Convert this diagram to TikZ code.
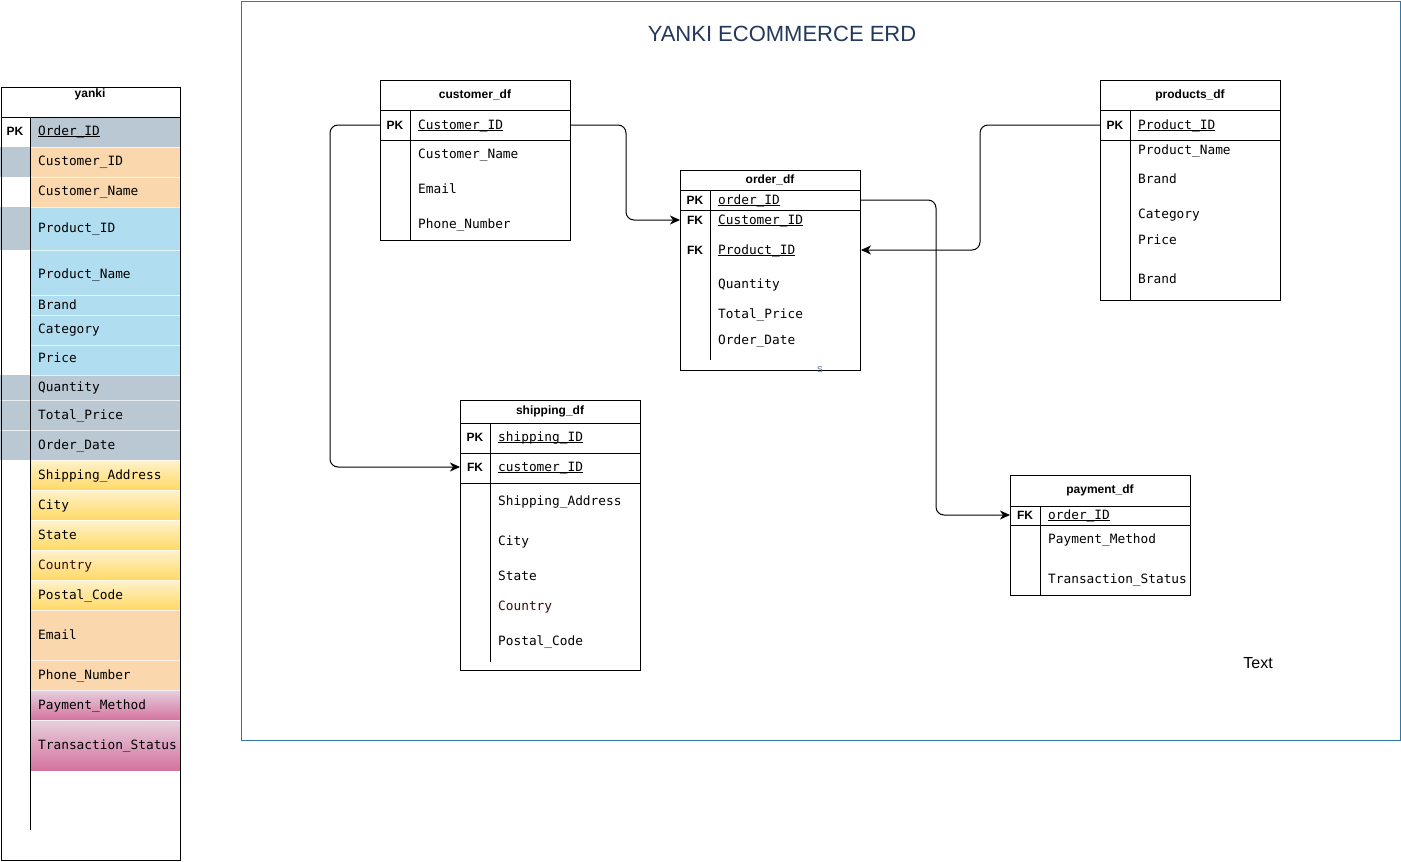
\documentclass[tikz,border=0pt]{standalone}
\usepackage{fontspec}
\setmainfont{Liberation Sans}
\newfontfamily\monof{DejaVu Sans Mono}
\usetikzlibrary{arrows.meta}
\definecolor{framec}{HTML}{2F78AC}
\definecolor{titlec}{HTML}{23395B}
\definecolor{gbl}{HTML}{BAC8D3}
\definecolor{org}{HTML}{FAD7AC}
\definecolor{blu}{HTML}{B1DDF0}
\definecolor{yl1}{HTML}{FFF2CC}
\definecolor{yl2}{HTML}{FFD966}
\definecolor{pk1}{HTML}{E6D0DE}
\definecolor{pk2}{HTML}{D5739D}
\definecolor{ctry}{HTML}{3D0A0A}
\definecolor{sc}{HTML}{4A6A8A}
\newcommand\myul[1]{\setbox0\hbox{#1}\rlap{\rule[-1.6pt]{\wd0}{0.7pt}}\box0}
\tikzset{
  tbl/.style={draw=black, line width=1pt, anchor=north west, inner sep=0pt},
  fld/.style={anchor=west, inner sep=0pt, font=\monof\fontsize{12.8}{14}\selectfont, text height=9pt, text depth=1pt},
  keyl/.style={anchor=center, inner sep=0pt, font=\bfseries\fontsize{12}{14}\selectfont},
  ttl/.style={anchor=center, inner sep=0pt, font=\bfseries\fontsize{12}{14}\selectfont},
  sep/.style={draw=black, line width=1pt},
  rowsep/.style={draw=white, line width=0.6pt, opacity=0.7},
  conn/.style={draw=black, line width=1pt, rounded corners=8pt},
  arr/.style={conn, -{Stealth[length=10pt, width=9pt, inset=3pt]}}
}
\begin{document}
\begin{tikzpicture}[x=1pt,y=-1pt]
\useasboundingbox (0,0) rectangle (1401,862);
\fill[white] (0,0) rectangle (1401,862);

% ===== left table: yanki =====
\fill[gbl] (30,117) rectangle (180,147);
\fill[org] (30,147) rectangle (180,207);
\fill[gbl] (0,147) rectangle (30,177);
\fill[blu] (30,207) rectangle (180,375);
\fill[gbl] (0,207) rectangle (30,250);
\fill[gbl] (0,375) rectangle (180,460);
\foreach \a/\b in {460/490,490/520,520/550,550/580,580/610}
  \shade[top color=yl1, bottom color=yl2] (30,\a) rectangle (180,\b);
\fill[org] (30,610) rectangle (180,690);
\foreach \a/\b in {690/720,720/770}
  \shade[top color=pk1, bottom color=pk2] (30,\a) rectangle (180,\b);
\foreach \yy in {147,177,207,250,295,315,345,375,400,430,460,490,520,550,580,610,660,690,720}
  \draw[rowsep] (30,\yy) -- (180,\yy);
\draw[rowsep] (0,400) -- (30,400);
\draw[rowsep] (0,430) -- (30,430);
\node[tbl, minimum width=179pt, minimum height=773pt] (yanki) at (1,87) {};
\draw[sep] (1,117) -- (180,117);
\draw[sep] (30,117) -- (30,830);
\node[ttl] (yt) at (90,94) {yanki};
\node[keyl] (ypk) at (15,131) {PK};
\node[fld] (y1) at (38,131) {\myul{Order\_ID}};
\node[fld] (y2) at (38,161) {Customer\_ID};
\node[fld] (y3) at (38,191) {Customer\_Name};
\node[fld] (y4) at (38,228) {Product\_ID};
\node[fld] (y5) at (38,274) {Product\_Name};
\node[fld] (y6) at (38,305) {Brand};
\node[fld] (y7) at (38,329) {Category};
\node[fld] (y8) at (38,358) {Price};
\node[fld] (y9) at (38,387) {Quantity};
\node[fld] (y10) at (38,415) {Total\_Price};
\node[fld] (y11) at (38,445) {Order\_Date};
\node[fld] (y12) at (38,475) {Shipping\_Address};
\node[fld] (y13) at (38,505) {City};
\node[fld] (y14) at (38,535) {State};
\node[fld, text=ctry] (y15) at (38,565) {Country};
\node[fld] (y16) at (38,595) {Postal\_Code};
\node[fld] (y17) at (38,635) {Email};
\node[fld] (y18) at (38,675) {Phone\_Number};
\node[fld] (y19) at (38,705) {Payment\_Method};
\node[fld] (y20) at (38,745) {Transaction\_Status};

% ===== frame =====
\node[draw=framec, line width=1pt, anchor=north west, minimum width=1159pt, minimum height=739pt, inner sep=0pt] (frame) at (241,1) {};
\node[text=titlec, font=\fontsize{22}{26}\selectfont, inner sep=0pt] (title) at (782,34) {YANKI ECOMMERCE ERD};
\node[font=\fontsize{16}{19}\selectfont, inner sep=0pt] (txt) at (1258,663) {Text};

% ===== customer_df =====
\node[tbl, minimum width=190pt, minimum height=160pt] (cust) at (380,80) {};
\draw[sep] (380,110) -- (570,110);
\draw[sep] (380,140) -- (570,140);
\draw[sep] (410,110) -- (410,240);
\node[ttl] (ct) at (475,95) {customer\_df};
\node[keyl] (cpk) at (395,125) {PK};
\node[fld] (cid) at (418,125) {\myul{Customer\_ID}};
\node[fld] (cname) at (418,154) {Customer\_Name};
\node[fld] (cmail) at (418,189) {Email};
\node[fld] (cphone) at (418,224) {Phone\_Number};

% ===== order_df =====
\node[tbl, minimum width=180pt, minimum height=200pt] (ord) at (680,170) {};
\draw[sep] (680,190) -- (860,190);
\draw[sep] (680,210) -- (860,210);
\draw[sep] (710,190) -- (710,360);
\node[ttl] (ot) at (770,180) {order\_df};
\node[keyl] (opk) at (695,200) {PK};
\node[keyl] (ofk1) at (695,220) {FK};
\node[keyl] (ofk2) at (695,250) {FK};
\node[fld] (oid) at (718,200) {\myul{order\_ID}};
\node[fld] (ocid) at (718,220) {\myul{Customer\_ID}};
\node[fld] (opid) at (718,250) {\myul{Product\_ID}};
\node[fld] (oqty) at (718,284) {Quantity};
\node[fld] (otot) at (718,314) {Total\_Price};
\node[fld] (odate) at (718,340) {Order\_Date};
\node[text=sc, font=\fontsize{8.5}{9}\selectfont, inner sep=0pt] (os) at (820,370) {S};

% ===== products_df =====
\node[tbl, minimum width=180pt, minimum height=220pt] (prod) at (1100,80) {};
\draw[sep] (1100,110) -- (1280,110);
\draw[sep] (1100,140) -- (1280,140);
\draw[sep] (1130,110) -- (1130,300);
\node[ttl] (pt) at (1190,95) {products\_df};
\node[keyl] (ppk) at (1115,125) {PK};
\node[fld] (pid) at (1138,125) {\myul{Product\_ID}};
\node[fld] (pname) at (1138,150) {Product\_Name};
\node[fld] (pbrand) at (1138,179) {Brand};
\node[fld] (pcat) at (1138,214) {Category};
\node[fld] (pprice) at (1138,240) {Price};
\node[fld] (pbrand2) at (1138,279) {Brand};

% ===== shipping_df =====
\node[tbl, minimum width=180pt, minimum height=270pt] (ship) at (460,400) {};
\draw[sep] (460,423) -- (640,423);
\draw[sep] (460,453) -- (640,453);
\draw[sep] (460,483) -- (640,483);
\draw[sep] (490,423) -- (490,662);
\node[ttl] (st) at (550,411) {shipping\_df};
\node[keyl] (spk) at (475,437) {PK};
\node[keyl] (sfk) at (475,467) {FK};
\node[fld] (sid) at (498,437) {\myul{shipping\_ID}};
\node[fld] (scid) at (498,467) {\myul{customer\_ID}};
\node[fld] (saddr) at (498,501) {Shipping\_Address};
\node[fld] (scity) at (498,541) {City};
\node[fld] (sstate) at (498,576) {State};
\node[fld, text=ctry] (sctry) at (498,606) {Country};
\node[fld] (spost) at (498,641) {Postal\_Code};

% ===== payment_df =====
\node[tbl, minimum width=180pt, minimum height=120pt] (pay) at (1010,475) {};
\draw[sep] (1010,506) -- (1190,506);
\draw[sep] (1010,525) -- (1190,525);
\draw[sep] (1040,506) -- (1040,595);
\node[ttl] (payt) at (1100,490) {payment\_df};
\node[keyl] (payfk) at (1025,515) {FK};
\node[fld] (payoid) at (1048,515) {\myul{order\_ID}};
\node[fld] (paym) at (1048,539) {Payment\_Method};
\node[fld] (pays) at (1048,579) {Transaction\_Status};

% ===== connectors =====
\draw[arr] (cust.west |- cid) -- ([xshift=-50pt]cust.west |- cid) |- (ship.west |- scid);
\draw[arr] (cust.east |- cid) -- ([xshift=55pt]cust.east |- cid) |- (ord.west |- ocid);
\draw[arr] (prod.west |- pid) -- ([xshift=-120pt]prod.west |- pid) |- (ord.east |- opid);
\draw[arr] (ord.east |- oid) -- ([xshift=75pt]ord.east |- oid) |- (pay.west |- payoid);
\end{tikzpicture}
\end{document}
